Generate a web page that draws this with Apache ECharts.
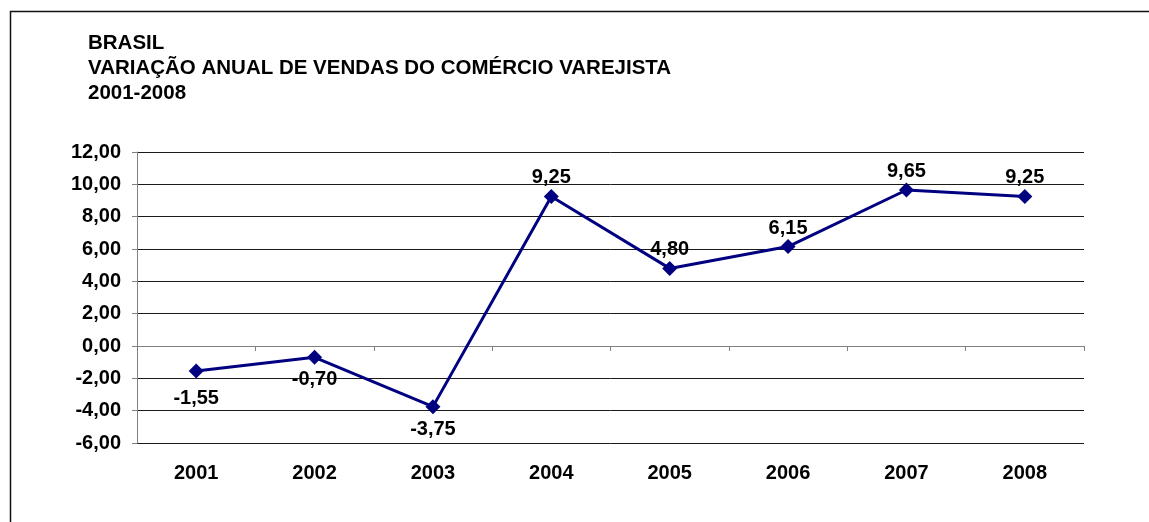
<!DOCTYPE html>
<html>
<head>
<meta charset="utf-8">
<title>Brasil - variação anual de vendas do comércio varejista</title>
<script src="https://cdn.jsdelivr.net/npm/echarts@6/dist/echarts.min.js"></script>
<style>
  html, body { margin: 0; padding: 0; background: #fff; }
  #chart { width: 1149px; height: 522px; }
</style>
</head>
<body>
<div id="chart"></div>
<script>
// dados
const anos = ["2001", "2002", "2003", "2004", "2005", "2006", "2007", "2008"];
const variacao = [-1.55, -0.70, -3.75, 9.25, 4.80, 6.15, 9.65, 9.25];
const yMin = -6;
const yMax = 12;
const yPasso = 2;

const fonte = "'Liberation Sans', Arial, Helvetica, sans-serif";
const virgula = (v) => Number(v).toFixed(2).replace(".", ",");

const chart = echarts.init(document.getElementById("chart"));

const option = {
  backgroundColor: "#fff",
  animation: false,
  textStyle: { fontFamily: fonte },
  title: {
    text: "BRASIL\nVARIAÇÃO ANUAL DE VENDAS DO COMÉRCIO VAREJISTA\n2001-2008",
    left: 88,
    top: 31,
    padding: 0,
    textStyle: {
      fontFamily: fonte,
      fontSize: 20.5,
      fontWeight: "bold",
      color: "#000",
      lineHeight: 25,
    },
  },
  // moldura do gráfico (só esquerda/topo aparecem)
  graphic: [
    {
      type: "rect",
      silent: true,
      shape: { x: 10.5, y: 11.5, width: 1300, height: 700 },
      style: { fill: "none", stroke: "#111", lineWidth: 1.5 },
    },
  ],
  grid: {
    left: 137,
    right: 65,
    top: 152,
    bottom: 79,
  },
  xAxis: [
    {
      // rótulos dos anos embaixo
      type: "category",
      data: anos,
      position: "bottom",
      axisLine: { show: false, onZero: false },
      axisTick: { show: false },
      axisLabel: {
        margin: 20,
        fontFamily: fonte,
        fontSize: 20,
        fontWeight: "bold",
        color: "#000",
      },
    },
    {
      // eixo no zero com marcas
      type: "category",
      data: anos,
      position: "bottom",
      axisLine: { show: true, onZero: true, lineStyle: { color: "#808080", width: 1 } },
      axisTick: { show: true, length: 5, lineStyle: { color: "#808080" } },
      axisLabel: { show: false },
    },
  ],
  yAxis: {
    type: "value",
    min: yMin,
    max: yMax,
    interval: yPasso,
    axisLine: { show: true, lineStyle: { color: "#808080", width: 1 } },
    axisTick: { show: true, length: 5, lineStyle: { color: "#808080" } },
    axisLabel: {
      margin: 16,
      formatter: virgula,
      fontFamily: fonte,
      fontSize: 20,
      fontWeight: "bold",
      color: "#000",
    },
    splitLine: { show: true, lineStyle: { color: "#1a1a1a", width: 1 } },
  },
  series: [
    {
      type: "line",
      xAxisIndex: 0,
      data: variacao.map((v, i) => ({
        value: v,
        label: v < 0
          ? { position: "bottom", distance: i === 0 ? 10 : 5 }
          : { position: "top", distance: 1 },
      })),
      symbol: "diamond",
      symbolSize: 15,
      itemStyle: { color: "#000080" },
      lineStyle: { color: "#000080", width: 3 },
      label: {
        show: true,
        formatter: (p) => virgula(p.value),
        fontFamily: fonte,
        fontSize: 20,
        fontWeight: "bold",
        color: "#000",
      },
    },
  ],
};

chart.setOption(option);
window.addEventListener("resize", () => {
  chart.resize();
});
</script>
</body>
</html>
